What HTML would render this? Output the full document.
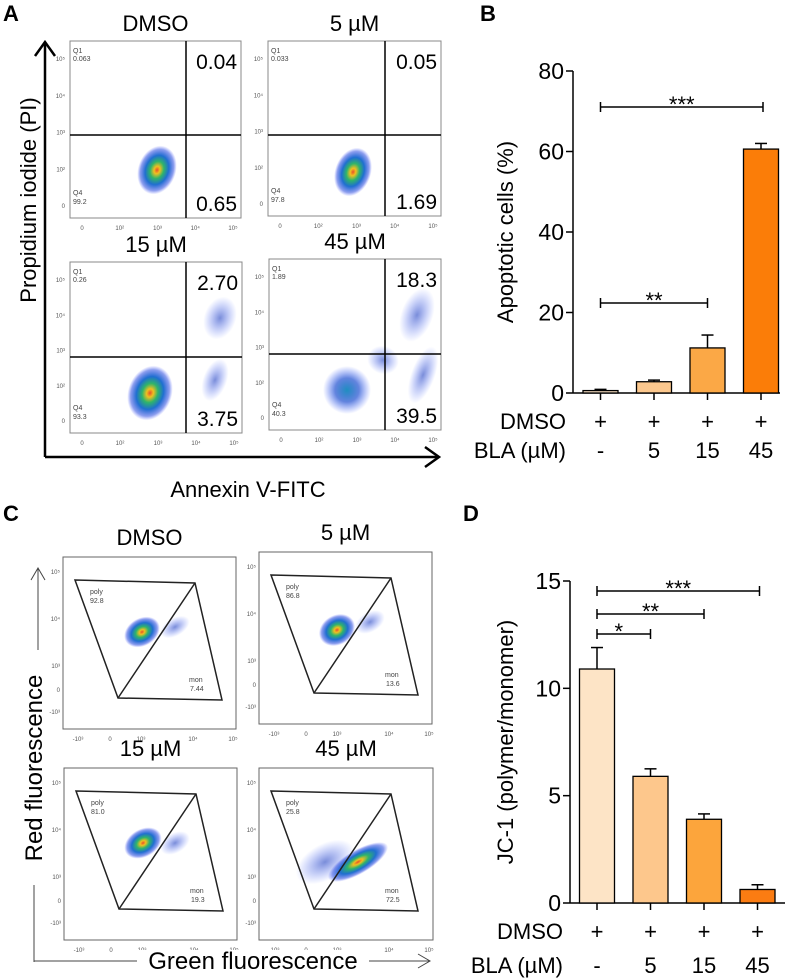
<!DOCTYPE html>
<html><head><meta charset="utf-8"><style>
html,body{margin:0;padding:0;background:#fff;}
svg{display:block;font-family:"Liberation Sans",Arial,sans-serif;}
</style></head><body>
<svg id="fig" width="790" height="978" viewBox="0 0 790 978" xmlns="http://www.w3.org/2000/svg">
<defs>
<radialGradient id="dens"><stop offset="0" stop-color="#e8502a"/><stop offset="0.15" stop-color="#f0c020"/><stop offset="0.35" stop-color="#2fb46a"/><stop offset="0.6" stop-color="#1f6fd0"/><stop offset="0.85" stop-color="#3050e0" stop-opacity="0.55"/><stop offset="1" stop-color="#5060ff" stop-opacity="0"/></radialGradient>
<radialGradient id="densB"><stop offset="0" stop-color="#1f8fc0"/><stop offset="0.5" stop-color="#2050d0" stop-opacity="0.7"/><stop offset="1" stop-color="#4060ff" stop-opacity="0"/></radialGradient>
<radialGradient id="sparse"><stop offset="0" stop-color="#2040c0" stop-opacity="0.6"/><stop offset="1" stop-color="#4060ff" stop-opacity="0"/></radialGradient>
</defs>
<g font-weight="bold" font-size="22">
<text x="3" y="21">A</text>
<text x="480" y="21">B</text>
<text x="3" y="521">C</text>
<text x="463" y="521">D</text>
</g>
<g id="flowA"></g>
<g id="flowC"></g>
<g id="chartB"></g>
<g id="chartD"></g>
</svg>
<script>
// ---- Panel B data ----
const bCategories = ["-", "5", "15", "45"];
const bValues = [0.6, 2.8, 11.2, 60.6];
const bErrors = [0.3, 0.4, 3.2, 1.4];
const bTicks = [0, 20, 40, 60, 80];
const bColors = ["#fde4c6", "#fcc88e", "#fba846", "#fb7d08"];
// ---- Panel D data ----
const dCategories = ["-", "5", "15", "45"];
const dValues = [10.9, 5.9, 3.9, 0.63];
const dErrors = [1.0, 0.35, 0.25, 0.22];
const dTicks = [0, 5, 10, 15];
const dColors = ["#fde4c6", "#fdc78c", "#fca53c", "#fb7c12"];

const NS = "http://www.w3.org/2000/svg";
function mk(tag, attrs, parent, txt){
  const e = document.createElementNS(NS, tag);
  for (const k in attrs) e.setAttribute(k, attrs[k]);
  if (txt !== undefined) e.textContent = txt;
  parent.appendChild(e); return e;
}

function barChart(g, cfg){
  const y = v => cfg.y0 - (v - 0) / cfg.max * (cfg.y0 - cfg.yTop);
  const x = i => cfg.xFirst + i * cfg.step;
  const ax = mk("line", {x1:cfg.axX, y1:cfg.yTop, x2:cfg.axX, y2:cfg.y0, stroke:"#000","stroke-width":1.5}, g);
  
  
  const bx = mk("line", {x1:cfg.axX, y1:cfg.y0, x2:cfg.axEnd, y2:cfg.y0, stroke:"#000","stroke-width":1.5}, g);
  
  
  cfg.ticks.forEach(t => {
    mk("line", {x1:cfg.axX-7, y1:y(t), x2:cfg.axX, y2:y(t), stroke:"#000","stroke-width":1.5}, g);
    const tl = mk("text", {x:cfg.axX-9, y:y(t)+8, "text-anchor":"end","font-size":23}, g, t);
    
    
  });
  const yt = mk("text", {x:0,y:0,"text-anchor":"middle","font-size":22,transform:`translate(${cfg.titleX},${(cfg.yTop+cfg.y0)/2}) rotate(-90)`}, g, cfg.title);
  
  
  cfg.values.forEach((v,i) => {
    const cx = x(i), w = 35;
    mk("line", {x1:cx, y1:y(v), x2:cx, y2:y(v+cfg.errors[i]), stroke:"#000","stroke-width":1.5}, g);
    mk("line", {x1:cx-6, y1:y(v+cfg.errors[i]), x2:cx+6, y2:y(v+cfg.errors[i]), stroke:"#000","stroke-width":1.5}, g);
    const r = mk("rect", {x:cx-w/2, y:y(v), width:w, height:cfg.y0-y(v), fill:cfg.colors[i], stroke:"#000","stroke-width":1.3}, g);
    
    
    mk("line", {x1:cx, y1:cfg.y0, x2:cx, y2:cfg.y0+7, stroke:"#000","stroke-width":1.5}, g);
    const p = mk("text", {x:cx, y:cfg.row1, "text-anchor":"middle","font-size":22}, g, "+");
    
    
    const c = mk("text", {x:cx, y:cfg.row2, "text-anchor":"middle","font-size":22}, g, cfg.categories[i]);
    
    
  });
  const r1 = mk("text", {x:cfg.axX-7, y:cfg.row1, "text-anchor":"end","font-size":22}, g, "DMSO");
  
  
  const r2 = mk("text", {x:cfg.axX-7, y:cfg.row2, "text-anchor":"end","font-size":22}, g, "BLA (\u00b5M)");
  
  
  cfg.sig.forEach(s => {
    const x1 = x(s[0]), x2 = x(s[1]) + (s[1]===3?2:0), yy = s[2];
    const sg = mk("g", {}, g);
    
    
    mk("line", {x1:x1, y1:yy, x2:x2, y2:yy, stroke:"#000","stroke-width":1.5}, sg);
    mk("line", {x1:x1, y1:yy-5, x2:x1, y2:yy+5, stroke:"#000","stroke-width":1.5}, sg);
    mk("line", {x1:x2, y1:yy-5, x2:x2, y2:yy+5, stroke:"#000","stroke-width":1.5}, sg);
    mk("text", {x:(x1+x2)/2 + (s[4]||0), y:yy+5, "text-anchor":"middle","font-size":22}, sg, s[3]);
  });
}

barChart(document.getElementById("chartB"), {
  categories:bCategories, values:bValues, errors:bErrors, ticks:bTicks, colors:bColors,
  max:80, y0:393, yTop:71, axX:573, axEnd:780, xFirst:600.5, step:53.5,
  title:"Apoptotic cells (%)", titleX:513, row1:429, row2:458,
  sig:[[0,3,107,"***"],[0,2,303,"**"]]
});
barChart(document.getElementById("chartD"), {
  categories:dCategories, values:dValues, errors:dErrors, ticks:dTicks, colors:dColors,
  max:15, y0:903, yTop:581, axX:570, axEnd:785, xFirst:597, step:53.5,
  title:"JC-1 (polymer/monomer)", titleX:513, row1:939, row2:973,
  sig:[[0,3,591,"***"],[0,2,614,"**"],[0,1,634,"*",-5]]
});

// ---- Panel A flow plots ----
const gA = document.getElementById("flowA");
const aDefs = [
  ["DMSO",70,41,171,177,186,135,"0.063","99.2","0.04","0.65",[[157,170,19,25,1]]],
  ["5 \u00b5M",268,41,173,175,385,135,"0.033","97.8","0.05","1.69",[[353,172,18,25,1]]],
  ["15 \u00b5M",70,262,172,171,186,357,"0.26","93.3","2.70","3.75",[[150,393,22,28,1],[220,318,16,22,0],[215,380,12,22,0]]],
  ["45 \u00b5M",269,259,172,171,385,354,"1.89","40.3","18.3","39.5",[[347,390,24,24,2],[417,315,16,28,0],[423,375,12,30,0],[383,360,16,14,0]]]
];
aDefs.forEach(d => {
  const [t,x,y,w,h,vx,hy,q1,q4,ur,lr,bl] = d;
  const g = mk("g", {}, gA);
  
  
  mk("text", {x:x+w/2, y:y-10, "text-anchor":"middle","font-size":22}, g, t);
  bl.forEach(b => {
    mk("ellipse", {cx:b[0], cy:b[1], rx:b[2], ry:b[3], fill: b[4]===1?"url(#dens)":(b[4]===2?"url(#densB)":"url(#sparse)"), transform:`rotate(20 ${b[0]} ${b[1]})`}, g);
  });
  mk("rect", {x:x, y:y, width:w, height:h, fill:"none", stroke:"#888","stroke-width":1}, g);
  mk("line", {x1:vx, y1:y, x2:vx, y2:y+h, stroke:"#000","stroke-width":1.5}, g);
  mk("line", {x1:x, y1:hy, x2:x+w, y2:hy, stroke:"#000","stroke-width":1.5}, g);
  mk("text", {x:x+3, y:y+12, "font-size":7, fill:"#444"}, g, "Q1");
  mk("text", {x:x+3, y:y+20, "font-size":7, fill:"#444"}, g, q1);
  mk("text", {x:x+3, y:y+h-23, "font-size":7, fill:"#444"}, g, "Q4");
  mk("text", {x:x+3, y:y+h-14, "font-size":7, fill:"#444"}, g, q4);
  mk("text", {x:x+w-4, y:y+28, "text-anchor":"end","font-size":21}, g, ur);
  mk("text", {x:x+w-4, y:y+h-7, "text-anchor":"end","font-size":21}, g, lr);
  const ylab = ["10\u2075","10\u2074","10\u00b3","10\u00b2","0"];
  ylab.forEach((l,i)=>mk("text",{x:x-5,y:y+20+i*(h-30)/4,"text-anchor":"end","font-size":6,fill:"#555"},g,l));
  const xlab = ["0","10\u00b2","10\u00b3","10\u2074","10\u2075"];
  xlab.forEach((l,i)=>mk("text",{x:x+12+i*(w-20)/4,y:y+h+12,"text-anchor":"middle","font-size":6,fill:"#555"},g,l));
});
mk("line",{x1:45,y1:457,x2:45,y2:42,stroke:"#000","stroke-width":2.5},gA);
mk("polyline",{points:"35,56 45,42 55,56",fill:"none",stroke:"#000","stroke-width":2.5},gA);
mk("line",{x1:45,y1:457,x2:438,y2:457,stroke:"#000","stroke-width":2.5},gA);
mk("polyline",{points:"425,447 439,457 425,467",fill:"none",stroke:"#000","stroke-width":2.5},gA);
const ya = mk("text",{x:0,y:0,"text-anchor":"middle","font-size":22,transform:"translate(36,200) rotate(-90)"},gA,"Propidium iodide (PI)");


const xa = mk("text",{x:248,y:497,"text-anchor":"middle","font-size":22},gA,"Annexin V-FITC");



// ---- Panel C flow plots ----
const gC = document.getElementById("flowC");
const cDefs = [
  ["DMSO",63,557,173,172,"92.8","7.44",[[142,632,19,14,1],[175,627,16,9,0]]],
  ["5 \u00b5M",259,552,173,172,"86.8","13.6",[[337,630,19,15,1],[370,622,16,10,0]]],
  ["15 \u00b5M",64,768,173,172,"81.0","19.3",[[143,843,20,14,1],[175,843,16,10,0]]],
  ["45 \u00b5M",259,768,174,172,"25.8","72.5",[[358,862,34,12,1],[325,862,32,18,0]]]
];
cDefs.forEach(d => {
  const [t,x,y,w,h,p,m,bl] = d;
  const g = mk("g", {}, gC);
  
  
  mk("text", {x:x+w/2, y:y-12, "text-anchor":"middle","font-size":22}, g, t);
  bl.forEach(b => {
    mk("ellipse", {cx:b[0], cy:b[1], rx:b[2], ry:b[3], fill: b[4]===1?"url(#dens)":"url(#sparse)", transform:`rotate(-30 ${b[0]} ${b[1]})`}, g);
  });
  mk("rect", {x:x, y:y, width:w, height:h, fill:"none", stroke:"#666","stroke-width":1}, g);
  const tl=[x+12,y+23], tr=[x+132,y+26], br=[x+159,y+143], bl2=[x+55,y+141];
  mk("polygon",{points:`${tl} ${tr} ${br} ${bl2}`,fill:"none",stroke:"#222","stroke-width":1.5},g);
  mk("line",{x1:bl2[0],y1:bl2[1],x2:tr[0],y2:tr[1],stroke:"#222","stroke-width":1.5},g);
  mk("text",{x:x+27,y:y+37,"font-size":7,fill:"#444"},g,"poly");
  mk("text",{x:x+27,y:y+46,"font-size":7,fill:"#444"},g,p);
  mk("text",{x:x+126,y:y+125,"font-size":7,fill:"#444"},g,"mon");
  mk("text",{x:x+127,y:y+134,"font-size":7,fill:"#444"},g,m);
  ["10\u2075","10\u2074","10\u00b3","0","-10\u00b3"].forEach((l,i)=>mk("text",{x:x-3,y:y+17+[0,47,94,118,140][i],"text-anchor":"end","font-size":6,fill:"#555"},g,l));
  ["-10\u00b3","0","10\u00b3","10\u2074","10\u2075"].forEach((l,i)=>mk("text",{x:x+15+[0,32,63,115,155][i],y:y+h+12,"text-anchor":"middle","font-size":6,fill:"#555"},g,l));
});
mk("line",{x1:34,y1:962,x2:34,y2:885,stroke:"#444","stroke-width":1},gC);
mk("line",{x1:38,y1:650,x2:38,y2:569,stroke:"#444","stroke-width":1},gC);
mk("polyline",{points:"31,580 38,568 45,580",fill:"none",stroke:"#444","stroke-width":1},gC);
mk("line",{x1:34,y1:961,x2:430,y2:961,stroke:"#444","stroke-width":1},gC);
mk("polyline",{points:"418,954 430,961 418,968",fill:"none",stroke:"#444","stroke-width":1},gC);
const yc = mk("text",{x:0,y:0,"text-anchor":"middle","font-size":24,transform:"translate(42,768) rotate(-90)"},gC,"Red fluorescence");


mk("rect",{x:137,y:950,width:232,height:22,fill:"#fff"},gC);
const xc = mk("text",{x:253,y:969,"text-anchor":"middle","font-size":24},gC,"Green fluorescence");


</script>
</body></html>
